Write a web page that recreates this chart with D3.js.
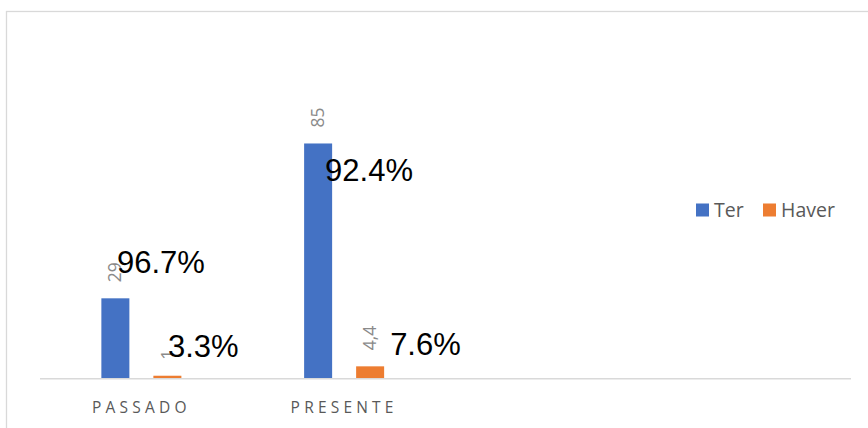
<!DOCTYPE html>
<html>
<head>
<meta charset="utf-8">
<script src="https://cdn.jsdelivr.net/npm/d3@7"></script>
<style>
  html, body { margin: 0; padding: 0; background: #ffffff; }
  svg { display: block; }
</style>
</head>
<body>
<div id="chart"></div>
<script>
// Categories on the x axis (the chart reserves four slots, two are left blank)
const categories = ["PASSADO", "PRESENTE"];
const slotCount = 4;

// Series
const seriesNames = ["Ter", "Haver"];
const terValues = [29, 85];
const haverValues = [1, 4.4];

// Share of each series inside its category, written over the bars
const terShares = ["96.7%", "92.4%"];
const haverShares = ["3.3%", "7.6%"];

const colors = { Ter: "#4472c4", Haver: "#ed7d31" };

const W = 868, H = 428;
const margin = { left: 40, right: 17, top: 102, baseline: 378.5 };

const svg = d3.select("#chart").append("svg")
  .attr("width", W).attr("height", H);

// outer chart frame (only its top and left edges fall inside the view)
svg.append("rect")
  .attr("x", 6.5).attr("y", 11.5)
  .attr("width", W + 20).attr("height", H + 20)
  .attr("fill", "none").attr("stroke", "#d9d9d9").attr("stroke-width", 1.3);

const x = d3.scaleBand()
  .domain(d3.range(slotCount))
  .range([margin.left, W - margin.right])
  .paddingInner(0).paddingOuter(0);

const xSub = d3.scaleBand()
  .domain(seriesNames)
  .range([0, x.bandwidth()])
  .paddingInner(0.4615)
  .paddingOuter(1.18);

const y = d3.scaleLinear()
  .domain([0, 100])
  .range([margin.baseline, margin.top]);

const rows = [];
categories.forEach((c, i) => {
  rows.push({ slot: i, series: "Ter", value: terValues[i], share: terShares[i] });
  rows.push({ slot: i, series: "Haver", value: haverValues[i], share: haverShares[i] });
});

// bars
svg.append("g").selectAll("rect")
  .data(rows).join("rect")
  .attr("x", d => x(d.slot) + xSub(d.series))
  .attr("y", d => y(d.value))
  .attr("width", xSub.bandwidth())
  .attr("height", d => y(0) - y(d.value))
  .attr("fill", d => colors[d.series]);

// baseline
svg.append("line")
  .attr("x1", x.range()[0]).attr("x2", x.range()[1])
  .attr("y1", y(0) + 0.25).attr("y2", y(0) + 0.25)
  .attr("stroke", "#d9d9d9").attr("stroke-width", 1.5);

// category axis
const xAxis = d3.axisBottom(x)
  .tickSize(0)
  .tickFormat(i => categories[i] || "");
const gx = svg.append("g")
  .attr("transform", `translate(0,${y(0)})`)
  .call(xAxis);
gx.select(".domain").remove();
gx.selectAll("text")
  .attr("dy", 0)
  .attr("y", 34)
  .attr("fill", "#595959")
  .style("font-family", "'Open Sans', sans-serif")
  .style("font-size", "15.5px")
  .style("letter-spacing", "4.2px");

// rotated value labels (decimal comma)
const ptBR = d3.formatLocale({ decimal: ",", thousands: ".", grouping: [3], currency: ["R$", ""] });
const fmt = v => ptBR.format(",")(v);

svg.append("g").selectAll("text")
  .data(rows).join("text")
  .attr("transform", d => {
    const cx = x(d.slot) + xSub(d.series) + xSub.bandwidth() / 2;
    return `translate(${cx},${y(d.value) - 16}) rotate(-90)`;
  })
  .attr("dy", "0.35em")
  .attr("text-anchor", "start")
  .attr("fill", "#8a8a8a")
  .style("font-family", "'Open Sans', sans-serif")
  .style("font-size", "17.5px")
  .text(d => fmt(d.value));

// share labels: offset from the bar's centre / top
const shareOffsets = [
  { dx: 1.6, dy: -25 },   // Ter, PASSADO
  { dx: 0.6, dy: -19 },   // Haver, PASSADO
  { dx: 7, dy: 37.5 },    // Ter, PRESENTE
  { dx: 20, dy: -11 }     // Haver, PRESENTE
];
svg.append("g").selectAll("text")
  .data(rows).join("text")
  .attr("x", (d, i) => x(d.slot) + xSub(d.series) + xSub.bandwidth() / 2 + shareOffsets[i].dx)
  .attr("y", (d, i) => y(d.value) + shareOffsets[i].dy)
  .attr("fill", "#000000")
  .style("font-family", "'Liberation Sans', Arial, sans-serif")
  .style("font-size", "31px")
  .text(d => d.share);

// legend
const legendItems = [
  { name: "Ter", x: 696 },
  { name: "Haver", x: 763 }
];
const lg = svg.append("g");
legendItems.forEach(it => {
  lg.append("rect")
    .attr("x", it.x).attr("y", 203.5)
    .attr("width", 13).attr("height", 13)
    .attr("fill", colors[it.name]);
  lg.append("text")
    .attr("x", it.x + 18).attr("y", 217)
    .attr("fill", "#595959")
    .style("font-family", "'Open Sans', sans-serif")
    .style("font-size", "19.5px")
    .text(it.name);
});
</script>
</body>
</html>
